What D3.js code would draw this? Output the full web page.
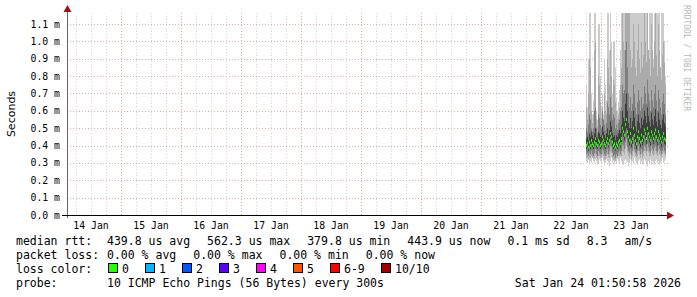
<!DOCTYPE html>
<html><head><meta charset="utf-8">
<script src="https://cdn.jsdelivr.net/npm/d3@7"></script>
<style>body{margin:0;background:#fff}svg{display:block}text{font-family:"DejaVu Sans Mono",monospace}</style>
</head><body><svg id="c" width="697" height="297"></svg>
<script>
// ---- data (ms) ----
const yTicks = [0,0.1,0.2,0.3,0.4,0.5,0.6,0.7,0.8,0.9,1.0,1.1];
const dayLabels = ["14 Jan","15 Jan","16 Jan","17 Jan","18 Jan","19 Jan","20 Jan","21 Jan","22 Jan","23 Jan"];
const firstLabelDay = "2026-01-14T12:00:00Z";
const dataStart = "2026-01-22T18:00:00Z";
const stepSec = 1440;
const med = [.40,.41,.39,.42,.40,.43,.41,.40,.42,.44,.41,.40,.43,.42,.40,.41,.45,.43,.41,.40,
.42,.44,.41,.43,.47,.45,.42,.40,.41,.39,.41,.40,.42,.43,.41,.44,.50,.48,.46,.52,
.55,.48,.45,.43,.47,.42,.44,.50,.46,.43,.41,.45,.48,.44,.42,.46,.43,.45,.49,.47,
.44,.50,.47,.45,.43,.48,.46,.44,.47,.49,.45,.43,.48,.46,.44,.42,.45,.47,.44,.43];
const pMin = [.31,.30,.32,.29,.31,.30,.33,.31,.30,.32,.31,.29,.30,.32,.31,.30,.33,.31,.29,.30,
.32,.31,.30,.28,.31,.33,.30,.31,.29,.31,.30,.32,.31,.30,.33,.31,.30,.29,.31,.32,
.30,.31,.28,.30,.32,.29,.31,.30,.33,.31,.30,.29,.31,.32,.30,.31,.29,.30,.32,.31,
.30,.28,.31,.30,.32,.29,.31,.30,.29,.31,.32,.30,.31,.29,.30,.31,.33,.30,.31,.32];
const pMax = [.75,.62,.90,1.2,1.2,.70,.58,.66,1.2,1.2,.60,.55,1.1,1.1,.80,.62,.70,.58,.90,.75,
.66,1.2,1.2,.95,1.2,1.0,.70,1.0,1.0,.85,.68,.60,.65,.72,.95,1.2,1.2,1.2,1.2,1.2,
1.2,1.2,1.2,1.2,1.2,1.2,1.2,1.2,1.2,1.2,1.2,1.2,1.2,1.2,1.2,1.2,1.2,1.2,1.2,1.2,
1.2,1.2,.95,1.2,1.2,1.2,1.2,.90,1.2,1.2,1.2,1.2,1.2,1.2,.85,1.2,1.2,1.2,1.0,.80];
const p2 = [.33,.33,.32,.33,.33,.34,.33,.32,.33,.35,.33,.32,.34,.34,.33,.33,.35,.34,.32,.32,
.34,.35,.33,.33,.36,.36,.33,.32,.32,.31,.33,.33,.34,.34,.34,.34,.37,.36,.35,.38,
.40,.36,.34,.33,.35,.32,.34,.37,.36,.34,.33,.34,.37,.35,.33,.35,.33,.34,.37,.36,
.34,.37,.36,.34,.34,.37,.35,.34,.35,.37,.35,.34,.37,.35,.34,.33,.35,.36,.35,.34];
const p9 = [.62,.55,.70,.90,.85,.60,.53,.58,.95,1.0,.55,.51,.80,.75,.65,.56,.62,.53,.70,.60,
.58,.90,.85,.75,.95,.80,.62,.78,.75,.65,.60,.55,.58,.62,.75,.85,1.2,1.0,.95,1.2,
1.2,1.2,1.2,1.2,.95,.85,.90,1.1,1.0,.85,.80,.95,1.1,.90,.82,1.0,.85,.92,1.2,1.0,
.88,1.2,.95,.90,.80,1.1,.95,.85,1.0,1.2,.92,.80,1.1,.95,.85,.78,.92,1.0,.88,.75];
const p3 = [.35,.36,.34,.36,.35,.37,.35,.34,.36,.38,.35,.34,.37,.36,.35,.35,.38,.37,.35,.34,
.36,.38,.35,.37,.40,.39,.36,.34,.35,.33,.35,.34,.36,.37,.35,.37,.41,.40,.38,.42,
.44,.39,.37,.36,.38,.35,.37,.41,.38,.36,.35,.37,.40,.37,.35,.38,.36,.37,.40,.39,
.37,.41,.39,.37,.36,.40,.38,.37,.39,.40,.37,.36,.40,.38,.37,.35,.37,.39,.37,.36];
const p8 = [.50,.48,.52,.58,.55,.50,.48,.50,.60,.62,.50,.47,.58,.56,.52,.50,.60,.55,.52,.49,
.53,.65,.62,.58,.68,.62,.55,.58,.56,.50,.52,.49,.53,.55,.60,.62,.75,.70,.72,.95,
1.0,.85,.70,.62,.68,.60,.64,.75,.70,.62,.58,.65,.72,.66,.60,.68,.62,.64,.74,.70,
.64,.78,.70,.66,.60,.72,.66,.62,.70,.75,.66,.60,.72,.67,.62,.58,.65,.70,.64,.58];
const p4 = [.38,.39,.37,.40,.38,.41,.39,.38,.40,.42,.39,.38,.41,.40,.38,.39,.43,.41,.39,.38,
.40,.42,.39,.41,.45,.43,.40,.38,.39,.37,.39,.38,.40,.41,.39,.42,.47,.45,.43,.48,
.50,.45,.42,.40,.44,.39,.41,.46,.43,.40,.38,.42,.45,.41,.39,.43,.40,.42,.46,.44,
.41,.47,.44,.42,.40,.45,.43,.41,.44,.46,.42,.40,.45,.43,.41,.39,.42,.44,.41,.40];
const p7 = [.44,.45,.43,.47,.45,.48,.46,.44,.47,.50,.45,.44,.48,.47,.45,.46,.51,.48,.46,.44,
.47,.50,.46,.49,.54,.51,.47,.45,.46,.43,.46,.45,.47,.49,.47,.52,.60,.56,.54,.64,
.70,.60,.53,.50,.56,.50,.54,.60,.56,.51,.48,.54,.58,.53,.50,.56,.52,.55,.60,.57,
.53,.62,.57,.54,.51,.59,.55,.52,.57,.61,.54,.51,.59,.55,.52,.50,.55,.58,.53,.51];
const lossLabels = ["0","1","2","3","4","5","6-9","10/10"];
const lossColors = ["#26ff00","#00b8ff","#0059ff","#5e00ff","#ff00ff","#ff5500","#ff0000","#a10000"];
const rttItems = ["439.8 us avg","562.3 us max","379.8 us min","443.9 us now","0.1 ms sd","8.3","am/s"];
const lossItems = ["0.00 % avg","0.00 % max","0.00 % min","0.00 % now"];
const probeText = "10 ICMP Echo Pings (56 Bytes) every 300s";
const stampText = "Sat Jan 24 01:50:58 2026";

// ---- chart ----
const svg = d3.select("#c");
const L=67, R=667, B=215, T=13;
const x = d3.scaleUtc().domain([new Date("2026-01-14T02:24:00Z"), new Date("2026-01-24T02:24:00Z")]).range([L,R]);
const y = d3.scaleLinear().domain([0, 1.1636]).range([B,T]);

const minor = d3.utcHour.every(6).range(x.domain()[0], x.domain()[1]).filter(d=>d.getUTCHours()!==0);
svg.append("g").selectAll("line").data(minor).join("line")
  .attr("x1",d=>Math.round(x(d))+0.5).attr("x2",d=>Math.round(x(d))+0.5).attr("y1",T).attr("y2",B)
  .attr("stroke","#d8d8d8").attr("stroke-dasharray","1,2");
const days = d3.utcDay.range(x.domain()[0], x.domain()[1]);
svg.append("g").selectAll("line").data(days).join("line")
  .attr("x1",d=>Math.round(x(d))+0.5).attr("x2",d=>Math.round(x(d))+0.5).attr("y1",T).attr("y2",B)
  .attr("stroke","#e8a8a8").attr("stroke-dasharray","1,2");
svg.append("g").selectAll("line").data(yTicks.slice(1)).join("line")
  .attr("x1",L).attr("x2",R+1).attr("y1",d=>Math.round(y(d))+0.5).attr("y2",d=>Math.round(y(d))+0.5)
  .attr("stroke","#e8a8a8").attr("stroke-dasharray","1,2");

// smoke
const t0 = new Date(dataStart).getTime();
const cols = med.map((m,i)=>({t:new Date(t0+i*stepSec*1000), i}));
const bands = [[pMin,pMax,"#cccccc"],[p2,p9,"#ababab"],[p3,p8,"#7e7e7e"],[p4,p7,"#3e3e3e"]];
const clip = v=>Math.max(T, y(v));
bands.forEach(([lo,hi,col])=>{
  svg.append("g").selectAll("rect").data(cols).join("rect")
    .attr("x",d=>Math.round(x(d.t))).attr("width",1)
    .attr("y",d=>clip(hi[d.i])).attr("height",d=>y(lo[d.i])-clip(hi[d.i]))
    .attr("fill",col);
});
svg.append("g").selectAll("rect").data(cols).join("rect")
  .attr("x",d=>Math.round(x(d.t))).attr("width",1)
  .attr("y",d=>y(med[d.i])-1.5).attr("height",3).attr("fill",lossColors[0]);

// axes
svg.append("line").attr("x1",L+0.5).attr("x2",L+0.5).attr("y1",B+3).attr("y2",10).attr("stroke","#666");
svg.append("path").attr("d",`M${L-3.5},12 L${L+0.5},5 L${L+4.5},12 Z`).attr("fill","#a01010");
svg.append("line").attr("x1",L-5).attr("x2",R).attr("y1",B+0.5).attr("y2",B+0.5).attr("stroke","#000");
svg.append("path").attr("d",`M${R},${B-3.5} L${R+7},${B+0.5} L${R},${B+4.5} Z`).attr("fill","#a01010");

svg.append("g").selectAll("text").data(yTicks).join("text")
  .attr("x",60).attr("y",d=>y(d)+3.5).attr("text-anchor","end").attr("font-size","9.8px").attr("fill","#000")
  .text(d=>d3.format(".1f")(d)+" m");
const labelDays = dayLabels.map((s,i)=>d3.utcDay.offset(new Date(firstLabelDay), i));
svg.append("g").selectAll("text").data(labelDays).join("text")
  .attr("x",d=>x(d)).attr("y",229).attr("text-anchor","middle").attr("font-size","9.8px")
  .text((d,i)=>dayLabels[i]);

svg.append("text").attr("transform","translate(15,114) rotate(-90)").attr("text-anchor","middle")
  .style("font-family","DejaVu Sans").attr("font-size","11px").text("Seconds");
svg.append("text").attr("transform","translate(684,5) rotate(90)").attr("text-anchor","start")
  .attr("font-size","8px").attr("fill","#b8b8b8").text("RRDTOOL / TOBI OETIKER");

// legend
const lf = "11.5px", gap = 17;
function row(label, items, yy){
  svg.append("text").attr("x",16).attr("y",yy).attr("font-size",lf).text(label);
  let cx = 107;
  items.forEach(s=>{
    const t = svg.append("text").attr("x",cx).attr("y",yy).attr("font-size",lf).text(s);
    cx += t.node().getComputedTextLength() + gap;
  });
}
row("median rtt:", rttItems, 245);
row("packet loss:", lossItems, 259);
svg.append("text").attr("x",16).attr("y",273).attr("font-size",lf).text("loss color:");
const lossX = [108,145,182,219,256,293,330,381];
lossLabels.forEach((l,i)=>{
  svg.append("rect").attr("x",lossX[i]+0.5).attr("y",263.5).attr("width",9).attr("height",9)
    .attr("fill",lossColors[i]).attr("stroke","#000");
  svg.append("text").attr("x",lossX[i]+14).attr("y",273).attr("font-size",lf).text(l);
});
svg.append("text").attr("x",16).attr("y",287).attr("font-size",lf).text("probe:");
svg.append("text").attr("x",107).attr("y",287).attr("font-size",lf).text(probeText);
svg.append("text").attr("x",681).attr("y",287).attr("text-anchor","end").attr("font-size",lf).text(stampText);
</script></body></html>
